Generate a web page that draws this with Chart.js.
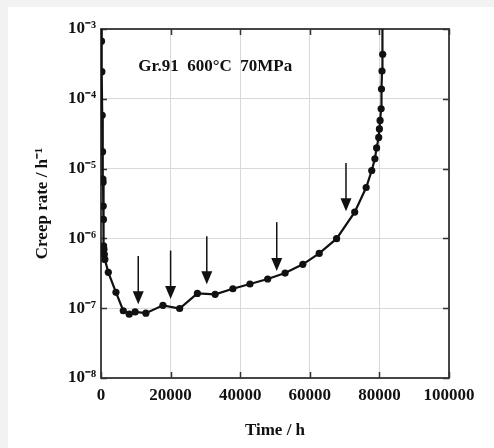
<!DOCTYPE html>
<html>
<head>
<meta charset="utf-8">
<script src="https://cdn.jsdelivr.net/npm/chart.js@4/dist/chart.umd.min.js"></script>
<style>
  html, body { margin: 0; padding: 0; width: 494px; height: 448px; overflow: hidden; background: #f2f2f2; }
  #card { position: absolute; left: 8px; top: 7px; right: 0; bottom: 0; background: #ffffff; }
  #wrap { position: absolute; left: 0; top: 0; width: 494px; height: 448px; }
</style>
</head>
<body>
<div id="card"></div>
<div id="wrap"><canvas id="c" width="494" height="448"></canvas></div>
<script>
// ---- data ----
const timeH = [0, 150, 250, 350, 450, 550, 600, 650, 700, 750, 850, 950, 1100,
  2100, 4300, 6400, 8100, 9800, 12900, 17800, 22600, 27700, 32800, 37900, 42800,
  47900, 52900, 58000, 62700, 67700, 72900, 76200, 77800, 78700, 79200, 79800,
  80000, 80200, 80500, 80600, 80750, 80950, 80800];
const creepRate = [3e-3, 6.7e-4, 2.45e-4, 5.8e-5, 1.75e-5, 7.1e-6, 6.4e-6, 2.9e-6, 1.87e-6,
  7.8e-7, 7.0e-7, 5.9e-7, 5.0e-7,
  3.27e-7, 1.69e-7, 9.2e-8, 8.2e-8, 8.85e-8, 8.5e-8, 1.1e-7, 9.9e-8, 1.63e-7, 1.58e-7,
  1.9e-7, 2.22e-7, 2.62e-7, 3.19e-7, 4.25e-7, 6.1e-7, 9.9e-7, 2.38e-6, 5.36e-6, 9.4e-6,
  1.38e-5, 1.98e-5, 2.8e-5, 3.7e-5, 4.9e-5, 7.2e-5, 1.38e-4, 2.5e-4, 4.35e-4, 3e-3];
// arrows marking observation times
const arrowTime = [10700, 20000, 30400, 50500, 70400];
const arrowFrom = [5.6e-7, 6.7e-7, 1.07e-6, 1.71e-6, 1.2e-5];
const arrowTo   = [1.14e-7, 1.35e-7, 2.2e-7, 3.4e-7, 2.45e-6];
// axis ticks
const xTicks = [0, 20000, 40000, 60000, 80000, 100000];
const yTicks = [1e-8, 1e-7, 1e-6, 1e-5, 1e-4, 1e-3];
const yTickLabels = ['10⁻⁸', '10⁻⁷', '10⁻⁶', '10⁻⁵', '10⁻⁴', '10⁻³'];
const annotationText = 'Gr.91  600°C  70MPa';

const FONT = '"Liberation Serif", "Times New Roman", serif';
const INK = '#111111';

const framePlugin = {
  id: 'frame',
  beforeDatasetsDraw(chart) {
    const {ctx, chartArea: a, scales: {x, y}} = chart;
    ctx.save();
    ctx.strokeStyle = '#333';
    ctx.lineWidth = 1.5;
    // inward ticks on all sides
    ctx.beginPath();
    xTicks.forEach(v => {
      const px = Math.round(x.getPixelForValue(v)) + 0.5;
      ctx.moveTo(px, a.top); ctx.lineTo(px, a.top + 6);
      ctx.moveTo(px, a.bottom); ctx.lineTo(px, a.bottom - 6);
    });
    yTicks.forEach(v => {
      const py = Math.round(y.getPixelForValue(v)) + 0.5;
      ctx.moveTo(a.left, py); ctx.lineTo(a.left + 6, py);
      ctx.moveTo(a.right, py); ctx.lineTo(a.right - 6, py);
    });
    ctx.stroke();
    ctx.lineWidth = 1.8;
    ctx.strokeRect(a.left, a.top, a.right - a.left, a.bottom - a.top);
    ctx.restore();
  },
  afterDatasetsDraw(chart) {
    const {ctx, scales: {x, y}} = chart;
    ctx.save();
    ctx.fillStyle = INK;
    ctx.strokeStyle = INK;
    arrowTime.forEach((t, i) => {
      const px = x.getPixelForValue(t);
      const y0 = y.getPixelForValue(arrowFrom[i]);
      const y1 = y.getPixelForValue(arrowTo[i]);
      ctx.lineWidth = 1.5;
      ctx.beginPath();
      ctx.moveTo(px, y0); ctx.lineTo(px, y1 - 10);
      ctx.stroke();
      ctx.beginPath();
      ctx.moveTo(px - 5.5, y1 - 13);
      ctx.lineTo(px + 5.5, y1 - 13);
      ctx.lineTo(px, y1);
      ctx.closePath();
      ctx.fill();
    });
    // annotation text
    ctx.font = 'bold 17px ' + FONT;
    ctx.textBaseline = 'middle';
    ctx.textAlign = 'left';
    ctx.fillText(annotationText, x.getPixelForValue(10700), y.getPixelForValue(2.9e-4));
    ctx.restore();
  }
};

new Chart(document.getElementById('c'), {
  type: 'line',
  data: {
    datasets: [{
      data: timeH.map((t, i) => ({x: t, y: creepRate[i]})),
      borderColor: INK,
      backgroundColor: INK,
      borderWidth: 2.2,
      pointRadius: 3.6,
      pointHoverRadius: 3.6,
      pointBackgroundColor: INK,
      pointBorderWidth: 0,
      tension: 0,
      fill: false
    }]
  },
  options: {
    responsive: false,
    animation: false,
    events: [],
    layout: { padding: { left: 0, top: 29, right: 45, bottom: 0 } },
    plugins: { legend: { display: false }, tooltip: { enabled: false }, title: { display: false } },
    scales: {
      x: {
        type: 'linear',
        min: 0, max: 100000,
        afterFit(s) { s.height = 70; },
        afterBuildTicks(s) { s.ticks = xTicks.map(v => ({value: v})); },
        grid: { color: '#d9d9d9', lineWidth: 1, drawTicks: false },
        border: { display: false },
        ticks: { color: INK, font: { family: FONT, size: 17, weight: 'bold' }, padding: 7, maxRotation: 0, autoSkip: false,
          callback: v => String(v) },
        title: { display: true, text: 'Time / h', color: INK, font: { family: FONT, size: 17, weight: 'bold' }, padding: { top: 0, bottom: 7 } }
      },
      y: {
        type: 'logarithmic',
        min: 1e-8, max: 1e-3,
        afterFit(s) { s.width = 101; },
        afterBuildTicks(s) { s.ticks = yTicks.map(v => ({value: v})); },
        grid: { color: '#d9d9d9', lineWidth: 1, drawTicks: false },
        border: { display: false },
        ticks: { color: INK, font: { family: FONT, size: 17, weight: 'bold' }, padding: 5, autoSkip: false,
          callback: (v) => { const i = yTicks.findIndex(t => Math.abs(Math.log10(t) - Math.log10(v)) < 1e-6); return i >= 0 ? yTickLabels[i] : ''; } },
        title: { display: true, text: 'Creep rate / h⁻¹', color: INK, font: { family: FONT, size: 17, weight: 'bold' }, padding: { top: 32, bottom: 0 } }
      }
    }
  },
  plugins: [framePlugin]
});
</script>
</body>
</html>
